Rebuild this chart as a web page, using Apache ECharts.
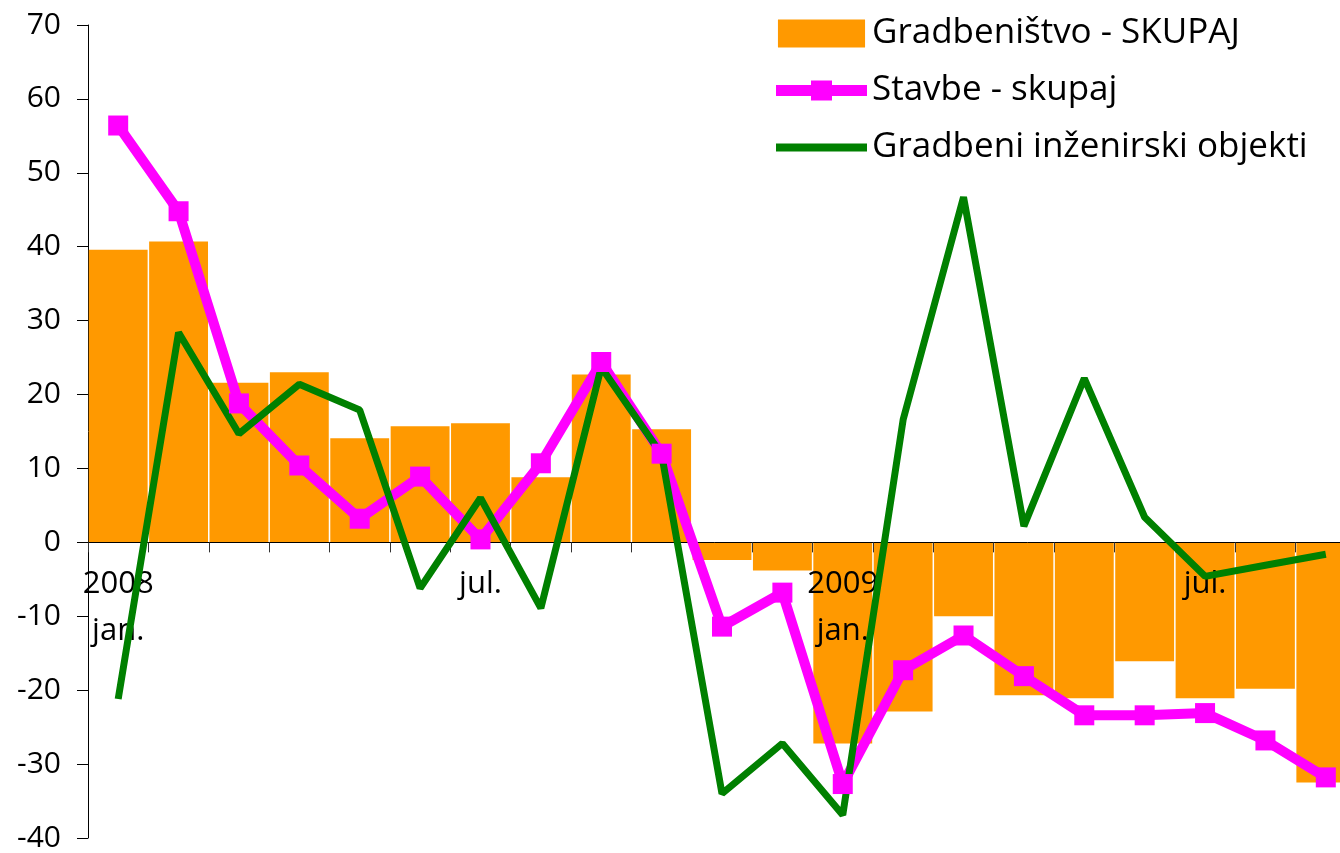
<!DOCTYPE html>
<html>
<head>
<meta charset="utf-8">
<script src="https://cdn.jsdelivr.net/npm/echarts@6/dist/echarts.min.js"></script>
<style>
html, body { margin: 0; padding: 0; background: #fff; }
#chart { width: 1340px; height: 853px; }
</style>
</head>
<body>
<div id="chart"></div>
<script>
// mesečni podatki jan. 2008 - sep. 2009
var months = ['jan. 2008', 'feb. 2008', 'mar. 2008', 'apr. 2008', 'maj 2008', 'jun. 2008', 'jul. 2008',
	'avg. 2008', 'sep. 2008', 'okt. 2008', 'nov. 2008', 'dec. 2008', 'jan. 2009', 'feb. 2009',
	'mar. 2009', 'apr. 2009', 'maj 2009', 'jun. 2009', 'jul. 2009', 'avg. 2009', 'sep. 2009'];
var tickLabels = ['2008\njan.', '', '', '', '', '', 'jul.', '', '', '', '', '', '2009\njan.', '', '', '', '', '', 'jul.', '', ''];

var skupaj = [39.6, 40.7, 21.6, 23.0, 14.1, 15.7, 16.1, 8.8, 22.7, 15.3, -2.4, -3.8,
	-27.2, -22.9, -10.0, -20.7, -21.1, -16.1, -21.1, -19.8, -32.5];
var stavbe = [56.4, 44.8, 18.8, 10.4, 3.2, 8.9, 0.4, 10.7, 24.4, 12.0, -11.4, -6.8,
	-32.7, -17.3, -12.6, -18.1, -23.4, -23.4, -23.1, -26.8, -31.8];
var inzenirski = [-21.2, 28.4, 14.7, 21.4, 17.9, -6.2, 6.0, -8.9, 23.7, 11.9, -34.0, -27.2,
	-36.9, 16.6, 46.7, 2.2, 22.2, 3.4, -4.6, -3.1, -1.6];

var font = '"Open Sans", "DejaVu Sans", sans-serif';

// ikone legende
var iconBar = 'path://M3,0 L87,0 L87,27 L3,27 Z';
var iconStavbe = 'path://M0,4.5 L35,4.5 L35,0 L56,0 L56,4.5 L91,4.5 L91,15.5 L56,15.5 L56,20 L35,20 L35,15.5 L0,15.5 Z';
var iconObjekti = 'path://M0,0 L91,0 L91,8 L0,8 Z';

var chart = echarts.init(document.getElementById('chart'));
var option = {
	animation: false,
	textStyle: { fontFamily: font },
	legend: {
		left: 776,
		top: 16,
		padding: 0,
		orient: 'vertical',
		itemWidth: 91,
		itemHeight: 28,
		itemGap: 22,
		textStyle: { fontSize: 35, lineHeight: 28, color: '#000', fontFamily: font },
		data: [
			{ name: 'Gradbeništvo - SKUPAJ', icon: iconBar, itemStyle: { color: '#FF9900' } },
			{ name: 'Stavbe - skupaj', icon: iconStavbe, itemStyle: { color: '#FF00FF' } },
			{ name: 'Gradbeni inženirski objekti', icon: iconObjekti, itemStyle: { color: '#008000' } }
		]
	},
	grid: {
		left: 88,
		top: 25,
		width: 1268,
		bottom: 15,
		containLabel: false,
		outerBoundsMode: 'none'
	},
	xAxis: [
		{
			type: 'category',
			data: months,
			z: 2,
			axisLine: { onZero: true, lineStyle: { color: '#000', width: 1 } },
			axisTick: { show: true, interval: 0, length: 10, lineStyle: { color: '#333' } },
			axisLabel: { show: false },
			splitLine: { show: false }
		},
		{
			// oznake meseca ob ničelni črti
			type: 'category',
			data: months,
			position: 'bottom',
			offset: -295,
			z: 2,
			axisLine: { show: false, onZero: false },
			axisTick: { show: false },
			axisLabel: {
				interval: 0,
				margin: 18,
				fontSize: 31,
				lineHeight: 47,
				color: '#000',
				fontFamily: font,
				formatter: function (v, i) { return tickLabels[i]; }
			},
			splitLine: { show: false }
		}
	],
	yAxis: {
		type: 'value',
		min: -40,
		max: 70,
		interval: 10,
		axisLine: { show: true, lineStyle: { color: '#000', width: 1 } },
		axisTick: { show: true, length: 11, lineStyle: { color: '#000' } },
		axisLabel: { fontSize: 30, color: '#000', margin: 27, fontFamily: font },
		splitLine: { show: false }
	},
	series: [
		{
			name: 'Gradbeništvo - SKUPAJ',
			type: 'bar',
			z: 1,
			data: skupaj,
			barCategoryGap: '2.5%',
			itemStyle: { color: '#FF9900' }
		},
		{
			name: 'Stavbe - skupaj',
			type: 'line',
			z: 3,
			data: stavbe,
			symbol: 'rect',
			symbolSize: 20,
			lineStyle: { color: '#FF00FF', width: 10 },
			itemStyle: { color: '#FF00FF' }
		},
		{
			name: 'Gradbeni inženirski objekti',
			type: 'line',
			z: 3,
			data: inzenirski,
			symbol: 'none',
			lineStyle: { color: '#008000', width: 7 },
			itemStyle: { color: '#008000' }
		}
	]
};
chart.setOption(option);
</script>
</body>
</html>
